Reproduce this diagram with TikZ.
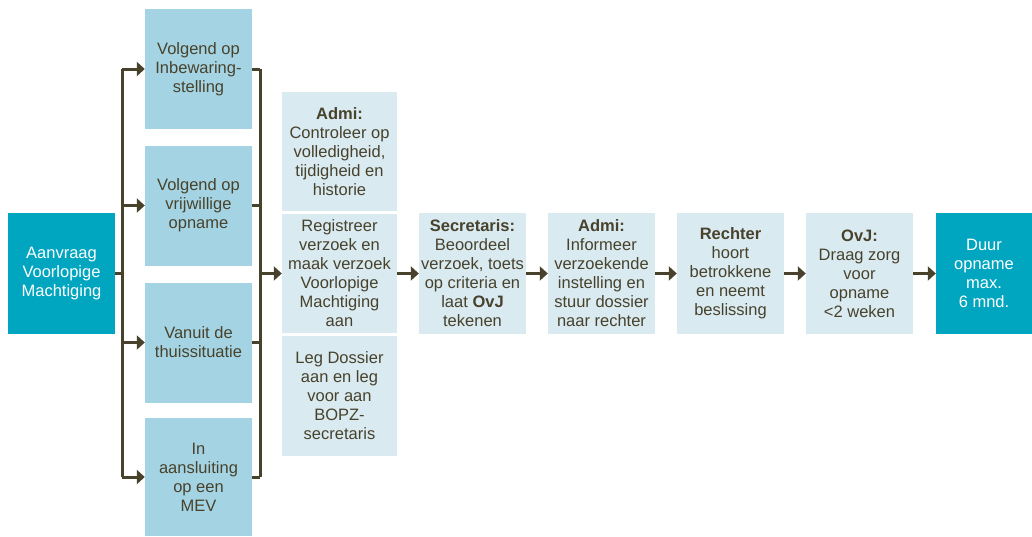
\documentclass[tikz,border=0pt]{standalone}
\usepackage{fontspec}
\setmainfont{Liberation Sans}
\usetikzlibrary{arrows.meta}
\definecolor{teal}{RGB}{0,165,192}
\definecolor{lblue}{RGB}{164,212,228}
\definecolor{pale}{RGB}{217,234,241}
\definecolor{ink}{RGB}{72,66,44}
\tikzset{
  box/.style={inner sep=0pt, align=center, text=ink, font=\fontsize{16.5}{19}\selectfont},
  dbox/.style={box, fill=teal, text=white, minimum width=107pt, minimum height=121pt},
  lbox/.style={box, fill=lblue, minimum width=107pt, minimum height=120pt},
  pbox/.style={box, fill=pale, minimum width=115pt, minimum height=119pt},
  sbox/.style={box, fill=pale, minimum width=107pt, minimum height=121pt},
  line/.style={draw=ink, line width=3pt},
  arr/.style={line, -{Triangle[length=8pt,width=14pt]}}
}
\begin{document}
\begin{tikzpicture}[x=1pt,y=-1pt]
\useasboundingbox (0,0) rectangle (1032,536);
% first node
\node[dbox] (aan) at (61.5,273.5) {Aanvraag\\Voorlopige\\Machtiging};
% left column
\node[lbox] (b1) at (198.5,69) {Volgend op\\Inbewaring-\\stelling};
\node[lbox] (b2) at (198.5,205.5) {Volgend op\\vrijwillige\\opname};
\node[lbox] (b3) at (198.5,342.5) {Vanuit de\\thuissituatie};
\node[lbox, minimum height=118pt] (b4) at (198.5,477) {In\\aansluiting\\op een\\MEV};
% middle column
\node[pbox] (adm) at (339.5,151.5) {\textbf{Admi:}\\Controleer op\\volledigheid,\\tijdigheid en\\historie};
\node[pbox] (reg) at (339.5,273.5) {Registreer\\verzoek en\\maak verzoek\\Voorlopige\\Machtiging\\aan};
\node[pbox, minimum height=120pt] (leg) at (339.5,396) {Leg Dossier\\aan en leg\\voor aan\\BOPZ-\\secretaris};
% row
\node[sbox] (sec) at (472.5,273.5) {\textbf{Secretaris:}\\Beoordeel\\verzoek, toets\\op criteria en\\laat \textbf{OvJ}\\tekenen};
\node[sbox] (adm2) at (601.5,273.5) {\textbf{Admi:}\\Informeer\\verzoekende\\instelling en\\stuur dossier\\naar rechter};
\node[sbox] (rech) at (730.5,273.5) {\textbf{Rechter}\\hoort\\betrokkene\\en neemt\\beslissing};
\node[sbox] (ovj) at (859.5,273.5) {\textbf{OvJ:}\\Draag zorg\\voor\\opname\\<2 weken};
\node[dbox, minimum width=96pt] (duur) at (984,273.5) {Duur\\opname\\max.\\6 mnd.};
% buses
\coordinate (busL) at (122,273.5);
\coordinate (busR) at (260,273.5);
\draw[line] (aan.east) -- (aan.east -| busL);
\draw[line] (b1.west -| busL) -- (b4.west -| busL);
\foreach \b in {b1,b2,b3,b4}{
  \draw[arr] (\b.west -| busL) -- (\b.west);
  \draw[line] (\b.east) -- (\b.east -| busR);
}
\draw[line] (b1.east -| busR) -- (b4.east -| busR);
\draw[arr] (busR |- reg.west) -- (reg.west);
\draw[arr] (reg.east) -- (sec.west);
\draw[arr] (sec.east) -- (adm2.west);
\draw[arr] (adm2.east) -- (rech.west);
\draw[arr] (rech.east) -- (ovj.west);
\draw[arr] (ovj.east) -- (duur.west);
\end{tikzpicture}
\end{document}
